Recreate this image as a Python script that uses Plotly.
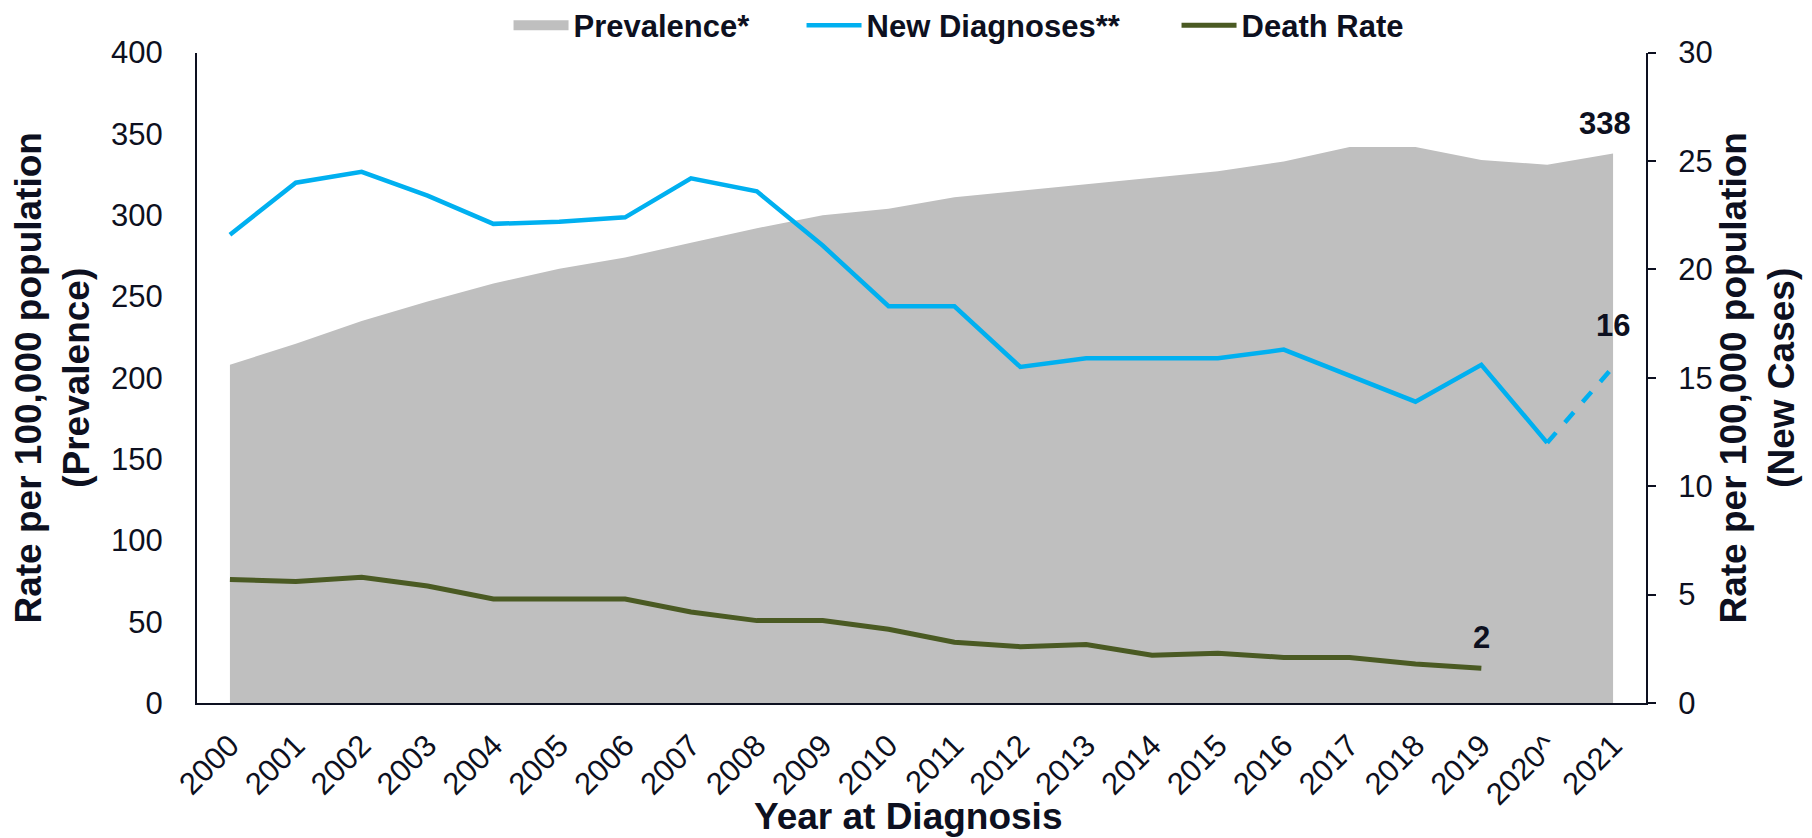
import plotly.graph_objects as go

# values
years = ['2000', '2001', '2002', '2003', '2004', '2005', '2006', '2007', '2008', '2009', '2010',
         '2011', '2012', '2013', '2014', '2015', '2016', '2017', '2018', '2019', '2020^', '2021']
prevalence = [208, 221, 235, 247, 258, 267, 274, 283, 292, 300, 304,
              311, 315, 319, 323, 327, 333, 342, 342, 334, 331, 338]
new_diagnoses = [21.6, 24.0, 24.5, 23.4, 22.1, 22.2, 22.4, 24.2, 23.6, 21.1, 18.3,
                 18.3, 15.5, 15.9, 15.9, 15.9, 16.3, 15.1, 13.9, 15.6, 12.0, 15.5]
death_rate = [5.7, 5.6, 5.8, 5.4, 4.8, 4.8, 4.8, 4.2, 3.8, 3.8, 3.4,
              2.8, 2.6, 2.7, 2.2, 2.3, 2.1, 2.1, 1.8, 1.6]

FONT = 'Liberation Sans, Arial, sans-serif'
INK = '#0D1020'
GRAY = '#BFBFBF'
BLUE = '#00B0F0'
GREEN = '#4A5A23'

fig = go.Figure()

# Prevalence area (left axis); legend entry drawn by a thick dummy line
fig.add_trace(go.Scatter(
    x=years, y=prevalence, name='Prevalence*', mode='none', showlegend=False,
    fill='tozeroy', fillcolor=GRAY, yaxis='y', legendgroup='prev'
))
fig.add_trace(go.Scatter(
    x=[None], y=[None], name='Prevalence*', mode='lines', legendgroup='prev',
    line=dict(color=GRAY, width=17), yaxis='y', legendwidth=223
))

# New diagnoses: solid through 2020, dashed to 2021
fig.add_trace(go.Scatter(
    x=years[:-1], y=new_diagnoses[:-1], name='New Diagnoses**', mode='lines',
    line=dict(color=BLUE, width=4.5), yaxis='y2', legendwidth=305
))
fig.add_trace(go.Scatter(
    x=years[-2:], y=new_diagnoses[-2:], mode='lines', showlegend=False,
    line=dict(color=BLUE, width=4.5, dash='dash'), yaxis='y2'
))

# Death rate (right axis)
fig.add_trace(go.Scatter(
    x=years[:len(death_rate)], y=death_rate, name='Death Rate', mode='lines',
    line=dict(color=GREEN, width=5), yaxis='y2'
))

# end-point labels (x given as category index)
label_font = dict(family=FONT, size=31, color=INK, weight='bold')
fig.add_annotation(x=len(years) - 1, y=prevalence[-1], xref='x', yref='y', text=f'{prevalence[-1]:.0f}',
                   showarrow=False, font=label_font, xshift=-8, yshift=30)
fig.add_annotation(x=len(years) - 1, y=new_diagnoses[-1], xref='x', yref='y2', text=f'{new_diagnoses[-1]:.0f}',
                   showarrow=False, font=label_font, yshift=41)
fig.add_annotation(x=len(death_rate) - 1, y=death_rate[-1], xref='x', yref='y2', text=f'{death_rate[-1]:.0f}',
                   showarrow=False, font=label_font, yshift=31)

tick_font = dict(family=FONT, size=31, color=INK)
title_font = dict(family=FONT, size=37, color=INK, weight='bold')

# x-axis title placed as a paper annotation so it sits where the reference has it
fig.add_annotation(x=0.491, y=-0.175, xref='paper', yref='paper', text='Year at Diagnosis',
                   showarrow=False, font=title_font, xanchor='center', yanchor='middle')

fig.update_layout(
    width=1812, height=838,
    margin=dict(l=189, r=174, t=43, b=143),
    plot_bgcolor='white', paper_bgcolor='white',
    font=dict(family=FONT, color=INK),
    showlegend=True,
    legend=dict(
        orientation='h', x=0.215, xanchor='left', y=0.979, yanchor='middle', yref='container',
        font=dict(family=FONT, size=31, color=INK, weight='bold'),
        itemwidth=55, bgcolor='rgba(0,0,0,0)'
    ),
    xaxis=dict(
        type='category', range=[-0.5, len(years) - 0.5], automargin=False,
        showline=True, linecolor=INK, linewidth=2, showgrid=False, ticks='',
        tickangle=-45, tickfont=tick_font, ticklabelstandoff=10
    ),
    yaxis=dict(
        range=[0, 400], dtick=50, showline=True, linecolor=INK, linewidth=2, automargin=False,
        showgrid=False, zeroline=False, ticks='', tickfont=tick_font, ticklabelstandoff=26,
        title=dict(text='Rate per 100,000 population<br>(Prevalence)', font=title_font, standoff=20)
    ),
    yaxis2=dict(
        range=[0, 30], dtick=5, overlaying='y', side='right', anchor='x', automargin=False,
        showline=True, linecolor=INK, linewidth=2, showgrid=False, zeroline=False,
        ticks='outside', ticklen=8, tickwidth=2, tickcolor=INK,
        tickfont=tick_font, ticklabelstandoff=16,
        title=dict(text='Rate per 100,000 population<br>(New Cases)', font=title_font, standoff=3)
    ),
)

fig.write_html('out.html')
